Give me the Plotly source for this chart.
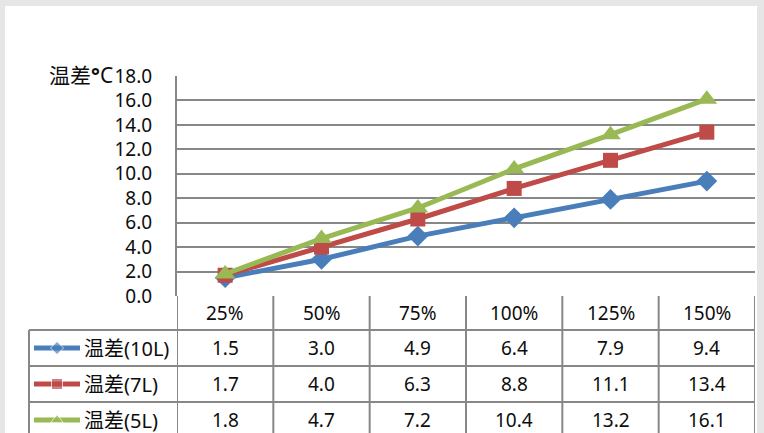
import plotly.graph_objects as go

# ---------------- data ----------------
categories = ["25%", "50%", "75%", "100%", "125%", "150%"]
series_names = ["温差(10L)", "温差(7L)", "温差(5L)"]
diff_10L = [1.5, 3.0, 4.9, 6.4, 7.9, 9.4]
diff_7L = [1.7, 4.0, 6.3, 8.8, 11.1, 13.4]
diff_5L = [1.8, 4.7, 7.2, 10.4, 13.2, 16.1]
y_ticks = [0, 2, 4, 6, 8, 10, 12, 14, 16, 18]
y_title = "温差<b>°</b>C"

# ---------------- styles / layout ----------------
W, H = 764, 433
FONT = "Noto Sans, Noto Sans CJK SC, sans-serif"
GRID = "#878787"
TXT = "#0d0d0d"
colors = ["#4a7ebb", "#be4b48", "#98b954"]
symbols = ["diamond", "square", "triangle-up"]
msizes = [16, 15, 18]
key_sizes = [10, 11, 11]

PLOT_L, PLOT_R = 177, 755
PLOT_T, PLOT_B = 76, 296
ROW_EDGES = [296, 330, 366, 402, 438]
LABEL_L = 29


def fx(p):
    return p / W


def fy(p):
    return 1 - p / H


all_series = [diff_10L, diff_7L, diff_5L]
xs = list(range(len(categories)))

fig = go.Figure()

for name, vals, c, s, ms in zip(series_names, all_series, colors, symbols, msizes):
    fig.add_trace(go.Scatter(
        x=xs, y=vals, mode="lines+markers", name=name,
        line=dict(color=c, width=5),
        marker=dict(symbol=s, size=ms, color=c),
        xaxis="x", yaxis="y", showlegend=False,
    ))

# legend keys inside table (pixel overlay axes)
for i, (c, s, ks) in enumerate(zip(colors, symbols, key_sizes)):
    yc = (ROW_EDGES[i + 1] + ROW_EDGES[i + 2]) / 2
    fig.add_trace(go.Scatter(
        x=[34, 57, 80], y=[yc, yc, yc], mode="lines+markers",
        line=dict(color=c, width=5),
        marker=dict(symbol=s, size=[0, ks, 0], color=c),
        xaxis="x2", yaxis="y2", showlegend=False, hoverinfo="skip",
    ))

shapes = []
# white panel
shapes.append(dict(type="rect", xref="paper", yref="paper",
                   x0=fx(5), x1=fx(757), y0=0, y1=fy(6),
                   fillcolor="white", line=dict(width=0), layer="below"))

line_style = dict(color=GRID, width=2)
n = len(categories)
# table horizontal lines
for k, ye in enumerate(ROW_EDGES[1:4]):
    shapes.append(dict(type="line", xref="paper", yref="paper",
                       x0=fx(LABEL_L), x1=fx(PLOT_R), y0=fy(ye), y1=fy(ye),
                       line=line_style))
# table vertical lines (category boundaries)
for k in range(n + 1):
    shapes.append(dict(type="line", xref="x", yref="paper",
                       x0=k - 0.5, x1=k - 0.5, y0=fy(PLOT_B), y1=0,
                       line=line_style))
# label column left border
shapes.append(dict(type="line", xref="paper", yref="paper",
                   x0=fx(LABEL_L), x1=fx(LABEL_L), y0=fy(ROW_EDGES[1]), y1=0,
                   line=line_style))

annotations = []
# y title
annotations.append(dict(text=y_title, xref="paper", yref="paper",
                        x=fx(114), y=fy(PLOT_T - 1), xanchor="right", yanchor="middle",
                        showarrow=False, borderpad=0,
                        font=dict(family=FONT, size=21, color=TXT)))
# header
for k, cat in enumerate(categories):
    annotations.append(dict(text=cat, xref="x", yref="paper", x=k,
                            y=fy((ROW_EDGES[0] + ROW_EDGES[1]) / 2),
                            showarrow=False, xanchor="center", yanchor="middle",
                            font=dict(family=FONT, size=19, color=TXT)))
# rows
for i, (name, vals) in enumerate(zip(series_names, all_series)):
    yc = (ROW_EDGES[i + 1] + ROW_EDGES[i + 2]) / 2
    annotations.append(dict(text=name, xref="paper", yref="paper", x=fx(82), y=fy(yc),
                            showarrow=False, xanchor="left", yanchor="middle",
                            font=dict(family=FONT, size=20, color=TXT)))
    for k, v in enumerate(vals):
        annotations.append(dict(text=f"{v:.1f}", xref="x", yref="paper", x=k, y=fy(yc),
                                showarrow=False, xanchor="center", yanchor="middle",
                                font=dict(family=FONT, size=19, color=TXT)))

fig.update_layout(
    width=W, height=H, autosize=False,
    margin=dict(l=0, r=0, t=0, b=0, pad=0, autoexpand=False),
    paper_bgcolor="#e6e6e6",
    plot_bgcolor="rgba(0,0,0,0)",
    font=dict(family=FONT, size=19, color=TXT),
    showlegend=False,
    xaxis=dict(domain=[fx(PLOT_L), fx(PLOT_R)], range=[-0.5, n - 0.5], automargin=False,
               showgrid=False, zeroline=False, showticklabels=False,
               showline=False, fixedrange=True),
    yaxis=dict(domain=[fy(PLOT_B), fy(PLOT_T)], range=[0, 18], automargin=False,
               tickvals=y_ticks, ticktext=[f"{v:.1f}" for v in y_ticks],
               showgrid=True, gridcolor=GRID, gridwidth=2,
               zeroline=False, showline=True, linecolor=GRID, linewidth=2,
               ticks="", ticklabelstandoff=19,
               tickfont=dict(family=FONT, size=19, color=TXT), fixedrange=True),
    xaxis2=dict(domain=[0, 1], range=[0, W], visible=False, anchor="y2",
                automargin=False, fixedrange=True),
    yaxis2=dict(domain=[0, 1], range=[H, 0], visible=False, anchor="x2",
                automargin=False, fixedrange=True),
    shapes=shapes,
    annotations=annotations,
)

fig.write_html(
    "out.html",
    config={"displayModeBar": False},
    post_script="document.body.style.margin='0px';document.body.style.overflow='hidden';",
)
